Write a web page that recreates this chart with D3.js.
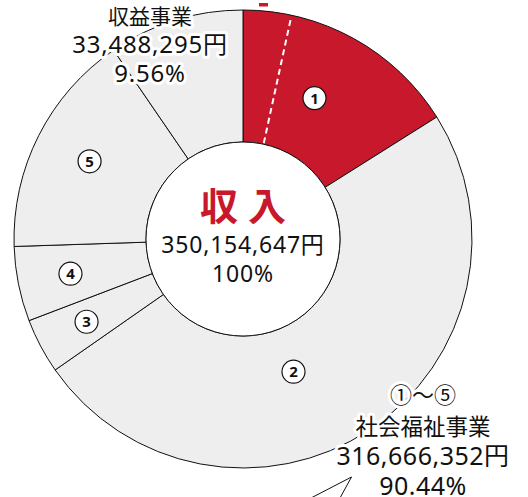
<!DOCTYPE html>
<html><head><meta charset="utf-8">
<script src="https://cdn.jsdelivr.net/npm/d3@7"></script>
<style>
html,body{margin:0;padding:0;background:#fff;}
svg{display:block;}
text{font-family:"Noto Sans","Noto Sans CJK JP",sans-serif;}
</style></head><body>
<svg id="chart" width="528" height="497"></svg>
<script>
// ---- data ----
const categories = ["①","②","③","④","⑤","収益事業"];
const shares = [16.06, 49.25, 3.89, 5.28, 15.96, 9.56];   // % of total income
const firstSplit = [3.4, 12.66];                            // dashed sub-division inside ①
const totalLabel = ["350,154,647円", "100%"];
const centerTitle = "収 入";
const incomeLabel = ["収益事業", "33,488,295円", "9.56%"];
const welfareLabel = ["①～⑤", "社会福祉事業", "316,666,352円", "90.44%"];

// ---- layout ----
const W = 528, H = 497;
const cx = 243, cy = 239, R = 229, r0 = 97;
const RED = "#c8182b", GREY = "#eeeeee";
const labelRadius = [158, 142, 177, 176, 172, null];
const labelAngleShift = [-2, 12.7, 0, 0, 0, 0]; // degrees

const svg = d3.select("#chart");
const g = svg.append("g").attr("transform", `translate(${cx},${cy})`);

const data = categories.map((c, i) => ({cat: c, v: shares[i], i}));
const pie = d3.pie().sort(null).value(d => d.v).startAngle(0).endAngle(2 * Math.PI);
const arcs = pie(data);
const arc = d3.arc().innerRadius(r0).outerRadius(R);

g.selectAll("path.slice").data(arcs).join("path")
  .attr("class", "slice")
  .attr("d", arc)
  .attr("fill", d => d.data.i === 0 ? RED : GREY)
  .attr("stroke", "#111").attr("stroke-width", 1);

// dashed split inside ①
const a1 = arcs[0];
const splitScale = d3.scaleLinear().domain([0, d3.sum(firstSplit)]).range([a1.startAngle, a1.endAngle]);
const sa = splitScale(firstSplit[0]);
g.append("line")
  .attr("x1", Math.sin(sa) * (r0 + 1)).attr("y1", -Math.cos(sa) * (r0 + 1))
  .attr("x2", Math.sin(sa) * (R - 1)).attr("y2", -Math.cos(sa) * (R - 1))
  .attr("stroke", "#fff").attr("stroke-width", 2).attr("stroke-dasharray", "6,4");

// center circle
g.append("circle").attr("r", r0).attr("fill", "#fff").attr("stroke", "#111").attr("stroke-width", 1);

// numbered badges
const badgeNums = ["1","2","3","4","5"];
arcs.forEach((d, i) => {
  if (labelRadius[i] == null) return;
  const mid = (d.startAngle + d.endAngle) / 2 + labelAngleShift[i] * Math.PI / 180;
  const x = Math.sin(mid) * labelRadius[i], y = -Math.cos(mid) * labelRadius[i];
  g.append("circle").attr("cx", x).attr("cy", y).attr("r", 11.5)
    .attr("fill", "#fff").attr("stroke", "#111").attr("stroke-width", 1.2);
  g.append("text").attr("x", x).attr("y", y + 5.5).attr("text-anchor", "middle")
    .attr("font-family", "'DejaVu Sans', sans-serif")
    .attr("font-size", 15).attr("font-weight", "bold").attr("fill", "#111")
    .text(badgeNums[i]);
});

// center texts
g.append("text").attr("x", 0).attr("y", -19).attr("text-anchor", "middle")
  .attr("font-size", 38).attr("font-weight", "bold").attr("fill", RED).text(centerTitle);
g.append("text").attr("x", 0).attr("y", 14).attr("text-anchor", "middle")
  .attr("font-size", 23).attr("letter-spacing", 0.8).attr("fill", "#111").text(totalLabel[0]);
g.append("text").attr("x", 0).attr("y", 43).attr("text-anchor", "middle")
  .attr("font-size", 23).attr("letter-spacing", 0.8).attr("fill", "#111").text(totalLabel[1]);

// leader lines heading out of the frame (cropped)
svg.append("line").attr("x1", 351.5).attr("y1", 477).attr("x2", 340).attr("y2", 498).attr("stroke", "#111");
svg.append("line").attr("x1", 351.5).attr("y1", 477).attr("x2", 311).attr("y2", 498).attr("stroke", "#111");
svg.append("rect").attr("x", 259).attr("y", 3).attr("width", 9).attr("height", 3.5).attr("fill", RED);

// haloed labels
function halo(x, y, txt, size, ls) {
  return svg.append("text").attr("x", x).attr("y", y).attr("text-anchor", "middle")
    .attr("font-size", size).attr("letter-spacing", ls).attr("fill", "#111")
    .attr("stroke", "#fff").attr("stroke-width", 6).attr("stroke-linejoin", "round")
    .attr("paint-order", "stroke").text(txt);
}
const topYs = [24, 53, 82];
const topSizes = [21, 24, 24];
incomeLabel.forEach((t, i) => halo(150, topYs[i], t, topSizes[i], i ? 0.8 : 0));
const botYs = [403, 435, 465, 495];
const botSizes = [22, 22.5, 25, 25];
welfareLabel.forEach((t, i) => halo(423, botYs[i], t, botSizes[i], i > 1 ? 0.5 : 0));
</script>
</body></html>
